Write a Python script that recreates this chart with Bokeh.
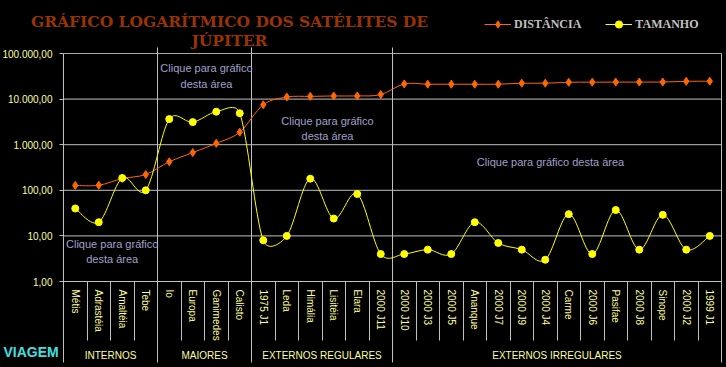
import math
from bokeh.plotting import figure
from bokeh.models import (Range1d, LinearAxis, FixedTicker, Label, Legend,
                          LegendItem, GlobalInlineStyleSheet)
from bokeh.embed import file_html
from bokeh.resources import INLINE

# ---------------- data ----------------
names = ["Métis", "Adrastéia", "Amaltéia", "Tebe",
         "Io", "Europa", "Ganimedes", "Calisto",
         "1975 J1", "Leda", "Himália", "Lisitéia", "Elara", "2000 J11",
         "2000 J10", "2000 J3", "2000 J5", "Ananque", "2000 J7", "2000 J9", "2000 J4",
         "Carme", "2000 J6", "Pasifae", "2000 J8", "Sinope", "2000 J2", "1999 J1"]
groups = ["INTERNOS", "MAIORES", "EXTERNOS REGULARES", "EXTERNOS IRREGULARES"]
group_sizes = [4, 4, 6, 14]
distancia = [128, 129, 181, 222,
             422, 671, 1070, 1883,
             7507, 11094, 11480, 11720, 11737, 12557,
             21500, 21200, 21200, 21200, 21200, 22300, 22300,
             23400, 23500, 23600, 23600, 23700, 24500, 24700]
tamanho = [40, 20, 186, 100,
           3640, 3130, 5300, 4900,
           8, 10, 180, 24, 83, 4,
           4, 5, 4, 20, 7, 5, 3,
           30, 4, 37, 5, 29, 5, 10]
y_ticks = [1, 10, 100, 1000, 10000, 100000]
y_tick_labels = ["1,00", "10,00", "100,00", "1.000,00", "10.000,00", "100.000,00"]
series_labels = ["DISTÂNCIA", "TAMANHO"]
title_lines = ["GRÁFICO LOGARÍTMICO DOS SATÉLITES DE", "JÚPITER"]
note_text = "Clique para gráfico\ndesta área"
note_text_wide = "Clique para gráfico desta área"
logo_text = "VIAGEM"

# ---------------- layout (page pixels) ----------------
W, H = 726, 367
PX_L, PX_R, PX_T, PX_B = 63, 721, 53, 281   # plot box: category span / decades 1..1e5
n = len(names)
CW = (PX_R - PX_L) / n
DEC = (PX_B - PX_T) / (len(y_ticks) - 1)


def xd(px):
    return -0.5 + (px - PX_L) / CW


def yd(py):
    return 10 ** ((PX_B - py) / DEC)


TICK_FONT = "Liberation Sans"
PALE = "#FFFF99"
GRID = "#C0C0C0"
ORANGE = "#FF6600"
YELLOW = "#FFFF00"

p = figure(width=W, height=H, output_backend="svg", toolbar_location=None,
           x_range=Range1d(xd(0), xd(W)), y_range=Range1d(yd(H), yd(0)),
           y_axis_type="log", x_axis_type=None)
p.min_border_left = 0
p.min_border_right = 0
p.min_border_top = 0
p.min_border_bottom = 0
p.title.visible = False
p.background_fill_color = "black"
p.border_fill_color = "black"
p.outline_line_color = None
p.ygrid.visible = False
p.stylesheets = [GlobalInlineStyleSheet(css="html, body { background-color: #000000; }")]

centers = list(range(n))
bounds = [i - 0.5 for i in range(n + 1)]
g_bounds = [bounds[0]]
for s in group_sizes:
    g_bounds.append(g_bounds[-1] + s)
g_centers = [(a + b) / 2 for a, b in zip(g_bounds[:-1], g_bounds[1:])]

# y axis (placed at the left edge of the category span)
yax = p.yaxis[0]
yax.fixed_location = bounds[0]
yax.bounds = (y_ticks[0], y_ticks[-1])
yax.ticker = FixedTicker(ticks=y_ticks, minor_ticks=[])
yax.major_label_overrides = dict(zip(y_ticks, y_tick_labels))
yax.major_tick_out = 4
yax.major_tick_in = 0
yax.minor_tick_out = 0
yax.minor_tick_in = 0
yax.axis_line_color = None
yax.major_tick_line_color = GRID
yax.major_label_text_color = PALE
yax.major_label_text_font = TICK_FONT
yax.major_label_text_font_size = "10px"
yax.major_label_standoff = 7

# horizontal grid lines
grid_colors = [GRID] * (len(y_ticks) - 1) + ["#A8A898"]
p.segment(x0=bounds[0], x1=bounds[-1], y0=y_ticks, y1=y_ticks,
          line_color=grid_colors, line_width=1)

# vertical group separators (full height) and outer frame edges
sep_x = g_bounds
sep_top = [y_ticks[-1]] + [yd(47)] * (len(g_bounds) - 2) + [y_ticks[-1]]
p.segment(x0=sep_x, x1=sep_x, y0=sep_top, y1=[yd(362)] * len(sep_x),
          line_color=GRID, line_width=1)

# x axis: names (cell lines as long minor ticks, labels pulled back up)
ax1 = LinearAxis(fixed_location=y_ticks[0], bounds=(bounds[0], bounds[-1]),
                 ticker=FixedTicker(ticks=centers, minor_ticks=bounds),
                 major_label_overrides={i: nm for i, nm in enumerate(names)},
                 major_label_orientation="vertical",
                 major_tick_out=0, major_tick_in=0,
                 minor_tick_out=59, minor_tick_in=0,
                 minor_tick_line_color=GRID, axis_line_color=GRID,
                 major_label_standoff=-51,
                 major_label_text_color=PALE, major_label_text_font=TICK_FONT,
                 major_label_text_font_size="10px")
p.add_layout(ax1, "below")

# x axis: groups
ax2 = LinearAxis(fixed_location=yd(340),
                 ticker=FixedTicker(ticks=g_centers, minor_ticks=[]),
                 major_label_overrides=dict(zip(g_centers, groups)),
                 major_tick_out=0, major_tick_in=0,
                 minor_tick_out=0, minor_tick_in=0,
                 axis_line_color=None,
                 major_label_standoff=9,
                 major_label_text_color=PALE, major_label_text_font=TICK_FONT,
                 major_label_text_font_size="10px")
p.add_layout(ax2, "below")

# smoothed (Excel-like) bezier segments computed from the data
def smooth(vals):
    L = [math.log10(v) for v in vals]
    P = [(i * CW, L[i] * DEC) for i in range(len(vals))]
    out = dict(x0=[], y0=[], x1=[], y1=[], cx0=[], cy0=[], cx1=[], cy1=[])
    m = len(vals)

    def d(a, b):
        return math.hypot(a[0] - b[0], a[1] - b[1])

    for i in range(m - 1):
        p0 = P[max(i - 1, 0)]
        p1 = P[i]
        p2 = P[i + 1]
        p3 = P[min(i + 2, m - 1)]
        d12, d02, d13 = d(p1, p2), d(p0, p2), d(p1, p3)
        f = 1 / 6 if d02 / 6 < d12 / 2 else d12 / (2 * d02)
        g = 1 / 6 if d13 / 6 < d12 / 2 else d12 / (2 * d13)
        c1 = (p1[0] + f * (p2[0] - p0[0]), p1[1] + f * (p2[1] - p0[1]))
        c2 = (p2[0] - g * (p3[0] - p1[0]), p2[1] - g * (p3[1] - p1[1]))
        out["x0"].append(i)
        out["y0"].append(vals[i])
        out["x1"].append(i + 1)
        out["y1"].append(vals[i + 1])
        out["cx0"].append(c1[0] / CW)
        out["cy0"].append(10 ** (c1[1] / DEC))
        out["cx1"].append(c2[0] / CW)
        out["cy1"].append(10 ** (c2[1] / DEC))
    return out


sd = smooth(distancia)
st = smooth(tamanho)
r_bd = p.bezier(line_color=ORANGE, line_width=1, **sd)
r_bt = p.bezier(line_color=YELLOW, line_width=1, **st)
r_sd = p.scatter(centers, distancia, marker="diamond", size=8,
                 fill_color=ORANGE, line_color=ORANGE)
r_st = p.scatter(centers, tamanho, marker="circle", size=7,
                 fill_color=YELLOW, line_color=YELLOW)

legend = Legend(items=[LegendItem(label=series_labels[0], renderers=[r_bd, r_sd]),
                       LegendItem(label=series_labels[1], renderers=[r_bt, r_st])],
                location=(484, H - 33), orientation="horizontal",
                background_fill_alpha=0, border_line_color=None,
                padding=0, margin=0, spacing=24, glyph_width=27, glyph_height=18,
                label_height=18, label_standoff=3, label_text_font="Liberation Serif",
                label_text_font_style="bold", label_text_font_size="12px",
                label_text_color="#C0C0C0")
p.add_layout(legend)

# title
TITLE_C = "#993300"
for txt, base in [(title_lines[0], 21), (title_lines[1], 39.5)]:
    p.add_layout(Label(x=229, y=H - base, x_units="screen", y_units="screen",
                       text=txt, text_align="center", text_baseline="alphabetic",
                       text_font="DejaVu Serif", text_font_style="bold",
                       text_font_size="15.5px", text_color=TITLE_C))

# notes
NOTE = "#A0A0C8"
for px, py, txt in [(206, 75.5, note_text), (327, 128, note_text),
                    (111.7, 251, note_text), (550, 161.5, note_text_wide)]:
    p.add_layout(Label(x=xd(px), y=yd(py), text=txt, text_align="center",
                       text_baseline="middle", text_font="Liberation Sans",
                       text_font_size="11px", text_color=NOTE, text_line_height=1.3))

# logo text
p.add_layout(Label(x=3, y=H - 351, x_units="screen", y_units="screen", text=logo_text,
                   text_align="left", text_baseline="alphabetic",
                   text_font="Liberation Sans", text_font_style="bold",
                   text_font_size="14px", text_color="#40E0E0"))

open("out.html", "w").write(file_html(p, INLINE))
